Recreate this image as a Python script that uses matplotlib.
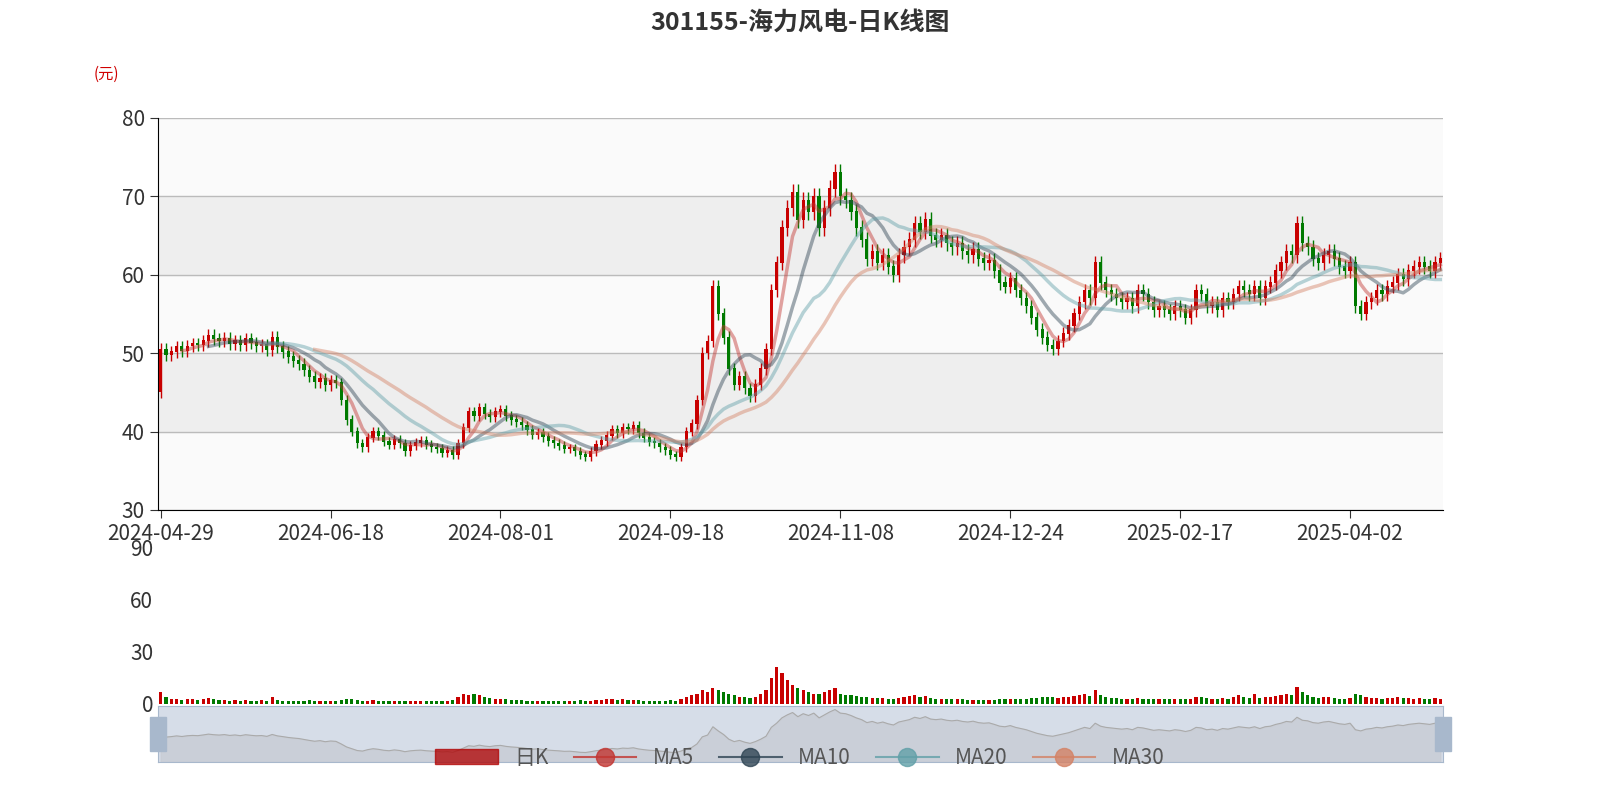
import numpy as np, pandas as pd
import matplotlib
matplotlib.use("Agg")
import matplotlib.pyplot as plt
from matplotlib.patches import Rectangle, FancyBboxPatch

plt.rcParams['font.family'] = ['Noto Sans CJK SC', 'DejaVu Sans']

closes = [50.5,49.8,50.2,50.8,50.3,50.9,51.2,51.0,51.6,52.3,
51.8,51.5,51.9,51.2,51.6,51.0,51.8,51.3,50.9,51.1,
50.4,52.0,50.8,50.2,49.5,49.0,48.6,47.8,47.0,46.3,
46.8,45.9,46.5,46.2,44.0,41.5,40.0,38.5,38.0,39.2,
40.0,39.5,38.7,38.3,39.0,38.5,37.5,38.2,38.6,38.8,
38.3,38.0,37.8,37.3,37.6,37.0,38.5,40.5,42.5,42.0,
43.0,42.2,41.8,42.5,42.8,42.0,41.5,41.2,40.8,40.2,
39.6,39.9,39.3,38.8,38.5,38.2,37.8,37.9,37.5,37.0,
36.8,37.5,38.3,38.8,39.5,40.2,39.8,40.5,40.3,40.8,
39.8,39.2,38.7,38.5,38.0,37.6,37.0,36.8,38.0,40.0,
41.0,44.0,50.0,51.5,58.5,55.0,52.0,48.0,46.0,47.0,
45.5,44.5,46.0,48.0,50.5,58.0,61.5,66.0,68.5,70.5,
67.0,69.5,68.0,70.0,66.0,68.5,71.0,73.0,70.0,69.5,
68.0,66.0,64.5,62.0,63.0,61.5,62.5,61.0,60.0,62.5,
63.5,64.5,66.5,65.5,67.0,65.0,64.5,65.0,64.0,63.5,
64.0,63.0,62.5,63.2,62.0,61.5,61.8,60.5,59.0,58.5,
59.5,58.0,57.0,56.0,54.5,53.0,52.0,51.0,50.5,51.5,
52.5,53.5,55.0,56.5,58.0,57.0,61.5,59.0,58.0,57.5,
57.0,56.5,57.0,56.0,58.0,57.5,56.5,55.5,56.0,55.5,
55.0,56.0,55.5,54.5,55.5,58.0,57.5,56.0,56.5,55.5,
57.0,56.5,57.5,58.5,58.0,57.5,58.5,57.0,58.5,59.0,
60.5,61.5,63.0,62.5,66.5,64.0,63.5,62.0,61.5,62.5,
63.0,62.0,61.0,60.5,61.5,56.0,55.0,56.5,57.0,58.0,
57.5,58.5,59.0,60.0,59.5,60.5,61.0,61.5,61.0,60.5,
61.5,62.0]
first_open = 45.0
volumes = [7,4,3,3,2.5,3,3,2.5,3,3.5, 3,2.5,2.5,2,2.5,2,2.5,2,2,2.5,
2,4,2.5,2,2,2,2,2,2.5,2, 2,2,2,2,2.5,3,3,2.5,2,2, 2.5,2,2,2,2,2,2,2,2,2,
2,2,2,2,2,2.5,4,6,5,6, 5,4,3.5,3,3,3,2.5,2.5,2.5,2, 2,2,2,2,2,2,2,2,2,2.5,
2,2,2.5,2.5,3,3,2.5,3,2.5,2.5, 2.5,2,2,2,2,2,2.5,2,3,4,
5,6,8,7,9,8,7,6,5,4, 4,3.5,4,6,8,15,21,18,14,11, 9,8,7,6,6,7,8,9,6,5,
5,4.5,4,4,3.5,3.5,3.5,3,3,3.5, 4,4.5,5,4,4.5,3.5,3,3,3,3, 3,3,2.5,2.5,2.5,2.5,2.5,2.5,3,3,
3,3,3,3,3.5,3.5,4,4,4,3.5, 4,4,4.5,5,5.5,4.5,8,5,4,3.5, 3.5,3,3,3,3.5,3,3,3,3,3,
3,3,3,3,3,4,4,3.5,3,3, 3.5,3,4,5,4,3.5,6,3.5,4,4, 4.5,5,6,5,10,7,5,4,3.5,4,
4,3.5,3,3,3.5,6,5,4,3.5,3.5, 3,3.5,3.5,4,3.5,3.5,3,3.5,3,3, 3.5,3]
holidays = ['2024-05-01','2024-05-02','2024-05-03','2024-06-10','2024-09-16','2024-09-17',
'2024-10-01','2024-10-02','2024-10-03','2024-10-04','2024-10-07','2025-01-01',
'2025-01-28','2025-01-29','2025-01-30','2025-01-31','2025-02-03','2025-02-04','2025-04-04']
tick_labels = ['2024-04-29','2024-06-18','2024-08-01','2024-09-18','2024-11-08','2024-12-24','2025-02-17','2025-04-02']

n = len(closes)
dates = [d.strftime('%Y-%m-%d') for d in pd.bdate_range('2024-04-29','2025-06-30') if d.strftime('%Y-%m-%d') not in holidays][:n]
c = np.array(closes); o = np.r_[first_open, c[:-1]]
hi = np.maximum(o, c) * 1.015; lo = np.minimum(o, c) * 0.985
x = np.arange(n)
up = c >= o
RED, GRN = '#c80000', '#007a00'

fig = plt.figure(figsize=(16, 8), dpi=100)
L, R = 158/1600, 1443/1600
ax = fig.add_axes([L, 1-510/800, R-L, (510-118)/800])
ax.set_xlim(-0.5, n-0.5); ax.set_ylim(30, 80)
for k, y0 in enumerate(range(30, 80, 10)):
    ax.axhspan(y0, y0+10, color='#fafafa' if k % 2 == 0 else '#eeeeee', zorder=0)
ax.set_yticks(range(30, 81, 10))
ax.grid(axis='y', color='#bbbbbb', lw=1, zorder=1)
ax.vlines(x, lo, hi, colors=np.where(up, RED, GRN), lw=1, zorder=3)
ax.bar(x, np.abs(c-o)+0.08, bottom=np.minimum(o, c), width=0.6, color=np.where(up, RED, GRN), zorder=3)
s = pd.Series(c)
mas = [(5, '#c23531'), (10, '#2f4554'), (20, '#61a0a8'), (30, '#d48265')]
for w, col in mas:
    ax.plot(x, s.rolling(w).mean(), color=col, lw=2.5, alpha=0.45, zorder=4)
ti = [dates.index(t) for t in tick_labels if t in dates]
ax.set_xticks(ti); ax.set_xticklabels([dates[i] for i in ti])
for sp in ['top', 'right']: ax.spines[sp].set_visible(False)
ax.tick_params(labelsize=15, colors='#333333', length=6)
ax.text(-0.04, 1.1, '(元)', transform=ax.transAxes, color='#d00000', fontsize=11, ha='center')
fig.text(0.5, 0.972, '301155-海力风电-日K线图', ha='center', va='center', fontsize=18, fontweight='bold', color='#333333')

av = fig.add_axes([L, 1-704/800, R-L, (704-547)/800])
av.set_xlim(-0.5, n-0.5); av.set_ylim(0, 90)
av.bar(x, volumes, width=0.6, color=np.where(up, RED, GRN))
av.set_yticks([0, 30, 60, 90]); av.set_xticks([])
for sp in av.spines.values(): sp.set_visible(False)
av.tick_params(labelsize=15, colors='#333333', length=0)

sl = fig.add_axes([L, 1-762/800, R-L, (762-706)/800])
sl.set_xlim(-0.5, n-0.5); sl.set_ylim(c.min()-8, c.max()+3)
sl.set_facecolor('#d6dde8')
sl.fill_between(x, c, sl.get_ylim()[0], color='#c8ccd4', alpha=0.8)
sl.plot(x, c, color='#aaaaaa', lw=0.8)
sl.set_xticks([]); sl.set_yticks([])
for sp in sl.spines.values(): sp.set_color('#a8b8cc')
for xx in [-0.5, n-0.5]:
    sl.add_patch(Rectangle((xx-1.5, sl.get_ylim()[0]+ (sl.get_ylim()[1]-sl.get_ylim()[0])*0.2), 3,
                           (sl.get_ylim()[1]-sl.get_ylim()[0])*0.6, color='#a8b8cc', clip_on=False, zorder=5))

from matplotlib.lines import Line2D
from matplotlib.patches import Patch
handles = [Patch(color='#b00000', alpha=0.75)] + [Line2D([], [], color=col, marker='o', ms=13, lw=1.5, alpha=0.8) for _, col in mas]
fig.legend(handles, ['日K', 'MA5', 'MA10', 'MA20', 'MA30'], loc='center', bbox_to_anchor=(0.5, 1-758/800),
           ncol=5, frameon=False, fontsize=15, labelcolor='#555555', handlelength=3, columnspacing=1.2)
fig.savefig('out.png')
